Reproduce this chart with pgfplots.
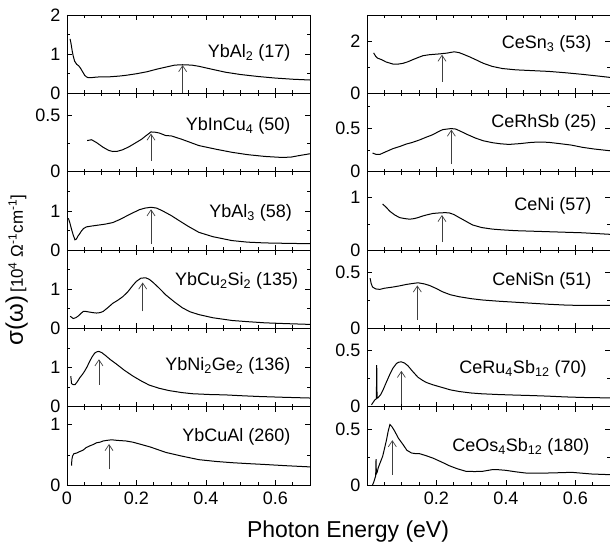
\documentclass[border=0pt]{standalone}
\usepackage{fontspec}
\setmainfont{Liberation Sans}
\usepackage{pgfplots}
\pgfplotsset{compat=1.18}
\usepgfplotslibrary{groupplots}
\usetikzlibrary{calc,arrows.meta}

\pgfplotsset{
  panel/.style={
    scale only axis, width=243pt, height=78.33pt,
    xmin=0, xmax=0.7, ymin=0,
    minor xtick={0,0.05,...,0.7},
    tick align=inside,
    major tick length=5pt, minor tick length=3pt,
    every tick/.style={black, line width=0.6pt},
    axis line style={line width=0.8pt},
    tick label style={font=\fontsize{18}{18}\selectfont},
    yticklabel style={xshift=-3pt},
    xticklabel style={yshift=-3pt},
    /pgf/number format/assume math mode=true,
  },
  curve/.style={black, line width=1pt, no marks},
}
\tikzset{
  pk/.style={-{Straight Barb[length=6pt,width=8pt]}, line width=0.7pt, black!75},
  lbl/.style={anchor=base east, font=\fontsize{18}{18}\selectfont},
}

\begin{document}
\begin{tikzpicture}
\begin{groupplot}[group style={group size=2 by 6, horizontal sep=57pt, vertical sep=0pt, xticklabels at=edge bottom}, panel]
% row 1
\nextgroupplot[ymax=2, ytick={0,1,2}, minor ytick={0.5,1.5}, xtick={0,0.2,0.4,0.6}]
\addplot[curve] coordinates {(0.009,1.39) (0.012,1.25) (0.015,1.08) (0.018,0.95) (0.022,0.82) (0.028,0.74) (0.034,0.70) (0.039,0.64) (0.045,0.55) (0.051,0.46) (0.056,0.42) (0.061,0.40) (0.07,0.40) (0.08,0.41) (0.094,0.42) (0.12,0.42) (0.15,0.44) (0.17,0.46) (0.2,0.50) (0.23,0.55) (0.26,0.62) (0.29,0.68) (0.31,0.72) (0.333,0.73) (0.36,0.72) (0.38,0.69) (0.42,0.61) (0.456,0.54) (0.5,0.48) (0.55,0.43) (0.6,0.39) (0.65,0.36) (0.7,0.34)};
\draw[pk] (axis cs:0.333,0) -- (axis cs:0.333,0.72);
\node[lbl] at (rel axis cs:0.934,0.46) {YbAl\textsubscript{2} (17)};
\nextgroupplot[ymax=3, ytick={0,2}, minor ytick={1}, xtick={0.2,0.4,0.6}]
\addplot[curve] coordinates {(0.019,1.55) (0.025,1.42) (0.03,1.35) (0.042,1.29) (0.055,1.2) (0.075,1.12) (0.09,1.12) (0.104,1.15) (0.118,1.21) (0.132,1.29) (0.147,1.37) (0.161,1.44) (0.18,1.48) (0.209,1.51) (0.23,1.54) (0.251,1.59) (0.265,1.56) (0.275,1.51) (0.295,1.40) (0.313,1.29) (0.335,1.15) (0.361,1.03) (0.39,0.95) (0.428,0.90) (0.475,0.87) (0.523,0.84) (0.57,0.79) (0.618,0.73) (0.66,0.67) (0.7,0.61)};
\draw[pk] (axis cs:0.216,0.45) -- (axis cs:0.216,1.48);
\node[lbl] at (rel axis cs:0.938,0.57) {CeSn\textsubscript{3} (53)};
% row 2
\nextgroupplot[ymax=0.7, ytick={0,0.5}, minor ytick={0.25}, xtick={0,0.2,0.4,0.6}]
\addplot[curve] coordinates {(0.058,0.278) (0.071,0.285) (0.085,0.26) (0.104,0.218) (0.12,0.19) (0.132,0.18) (0.145,0.182) (0.161,0.196) (0.18,0.225) (0.199,0.26) (0.215,0.29) (0.227,0.32) (0.242,0.355) (0.255,0.352) (0.266,0.345) (0.285,0.322) (0.3,0.32) (0.33,0.29) (0.38,0.233) (0.43,0.2) (0.475,0.173) (0.52,0.152) (0.57,0.136) (0.619,0.127) (0.645,0.13) (0.666,0.142) (0.7,0.16)};
\draw[pk] (axis cs:0.242,0.096) -- (axis cs:0.242,0.34);
\node[lbl] at (rel axis cs:0.934,0.525) {YbInCu\textsubscript{4} (50)};
\nextgroupplot[ymax=0.9, ytick={0,0.5}, minor ytick={0.25,0.75}, xtick={0.2,0.4,0.6}]
\addplot[curve] coordinates {(0.016,0.214) (0.025,0.2) (0.037,0.198) (0.055,0.23) (0.075,0.265) (0.095,0.29) (0.113,0.317) (0.13,0.335) (0.151,0.364) (0.17,0.395) (0.189,0.424) (0.205,0.458) (0.218,0.483) (0.242,0.495) (0.255,0.49) (0.266,0.471) (0.29,0.425) (0.313,0.385) (0.335,0.355) (0.361,0.333) (0.385,0.32) (0.409,0.313) (0.44,0.322) (0.475,0.337) (0.5,0.34) (0.523,0.337) (0.555,0.322) (0.589,0.305) (0.62,0.28) (0.655,0.26) (0.7,0.24)};
\draw[pk] (axis cs:0.243,0.087) -- (axis cs:0.243,0.483);
\node[lbl] at (rel axis cs:0.959,0.57) {CeRhSb (25)};
% row 3
\nextgroupplot[ymax=2, ytick={0,1}, minor ytick={0.5,1.5}, xtick={0,0.2,0.4,0.6}]
\addplot[curve] coordinates {(0.004,0.81) (0.008,0.7) (0.013,0.53) (0.018,0.38) (0.023,0.26) (0.027,0.28) (0.032,0.36) (0.037,0.42) (0.042,0.49) (0.048,0.55) (0.056,0.59) (0.07,0.61) (0.094,0.64) (0.11,0.66) (0.132,0.70) (0.15,0.77) (0.17,0.86) (0.19,0.95) (0.209,1.03) (0.225,1.07) (0.242,1.09) (0.258,1.07) (0.275,1.0) (0.3,0.88) (0.323,0.75) (0.35,0.60) (0.38,0.45) (0.42,0.34) (0.475,0.24) (0.52,0.2) (0.57,0.18) (0.63,0.17) (0.7,0.16)};
\draw[pk] (axis cs:0.242,0.15) -- (axis cs:0.242,1.04);
\node[lbl] at (rel axis cs:0.94,0.415) {YbAl\textsubscript{3} (58)};
\nextgroupplot[ymax=1.5, ytick={0,1}, minor ytick={0.5}, xtick={0.2,0.4,0.6}]
\addplot[curve] coordinates {(0.045,0.88) (0.055,0.82) (0.066,0.74) (0.08,0.67) (0.094,0.62) (0.11,0.6) (0.123,0.59) (0.135,0.6) (0.147,0.62) (0.16,0.65) (0.171,0.67) (0.19,0.70) (0.209,0.71) (0.225,0.715) (0.237,0.71) (0.25,0.68) (0.266,0.62) (0.285,0.55) (0.304,0.48) (0.33,0.43) (0.361,0.40) (0.39,0.385) (0.428,0.37) (0.475,0.36) (0.523,0.35) (0.57,0.34) (0.618,0.33) (0.66,0.315) (0.7,0.30)};
\draw[pk] (axis cs:0.216,0.15) -- (axis cs:0.216,0.67);
\node[lbl] at (rel axis cs:0.938,0.50) {CeNi (57)};
% row 4
\nextgroupplot[ymax=2, ytick={0,1}, minor ytick={0.5,1.5}, xtick={0,0.2,0.4,0.6}]
\addplot[curve] coordinates {(0.009,0.31) (0.018,0.25) (0.025,0.27) (0.032,0.31) (0.04,0.38) (0.047,0.43) (0.055,0.43) (0.061,0.42) (0.075,0.40) (0.085,0.39) (0.095,0.40) (0.104,0.43) (0.118,0.53) (0.132,0.64) (0.147,0.72) (0.161,0.81) (0.175,0.93) (0.19,1.1) (0.2,1.2) (0.213,1.28) (0.227,1.29) (0.237,1.25) (0.247,1.18) (0.265,1.03) (0.285,0.85) (0.31,0.67) (0.333,0.52) (0.355,0.42) (0.38,0.35) (0.42,0.27) (0.475,0.2) (0.52,0.17) (0.57,0.14) (0.63,0.12) (0.7,0.10)};
\draw[pk] (axis cs:0.218,0.43) -- (axis cs:0.218,1.17);
\node[lbl] at (rel axis cs:0.966,0.55) {YbCu\textsubscript{2}Si\textsubscript{2} (135)};
\nextgroupplot[ymax=0.7, ytick={0,0.5}, minor ytick={0.25}, xtick={0.2,0.4,0.6}]
\addplot[curve] coordinates {(0.009,0.448) (0.012,0.4) (0.016,0.369) (0.025,0.352) (0.037,0.348) (0.05,0.358) (0.075,0.369) (0.095,0.38) (0.113,0.392) (0.13,0.4) (0.147,0.407) (0.165,0.397) (0.18,0.383) (0.2,0.355) (0.218,0.326) (0.24,0.3) (0.266,0.282) (0.3,0.265) (0.333,0.253) (0.38,0.242) (0.428,0.233) (0.475,0.224) (0.523,0.215) (0.57,0.208) (0.618,0.204) (0.7,0.204)};
\draw[pk] (axis cs:0.145,0.078) -- (axis cs:0.145,0.383);
\node[lbl] at (rel axis cs:0.938,0.55) {CeNiSn (51)};
% row 5
\nextgroupplot[ymax=2, ytick={0,1}, minor ytick={0.5,1.5}, xtick={0,0.2,0.4,0.6}]
\addplot[curve] coordinates {(0.011,0.78) (0.013,0.59) (0.018,0.56) (0.023,0.56) (0.03,0.64) (0.037,0.74) (0.045,0.83) (0.051,0.91) (0.058,1.02) (0.066,1.17) (0.073,1.28) (0.08,1.37) (0.086,1.40) (0.092,1.41) (0.1,1.38) (0.109,1.32) (0.125,1.2) (0.142,1.09) (0.165,0.93) (0.19,0.78) (0.215,0.65) (0.237,0.55) (0.265,0.47) (0.294,0.41) (0.33,0.36) (0.361,0.33) (0.41,0.31) (0.456,0.30) (0.5,0.28) (0.55,0.26) (0.62,0.24) (0.7,0.22)};
\draw[pk] (axis cs:0.092,0.56) -- (axis cs:0.092,1.21);
\node[lbl] at (rel axis cs:0.934,0.46) {YbNi\textsubscript{2}Ge\textsubscript{2} (136)};
\nextgroupplot[ymax=0.7, ytick={0,0.5}, minor ytick={0.25}, xtick={0.2,0.4,0.6}]
\addplot[curve] coordinates {(0.013,0.016) (0.018,0.04) (0.023,0.062) (0.027,0.07) (0.028,0.37) (0.029,0.075) (0.032,0.08) (0.04,0.11) (0.047,0.155) (0.056,0.22) (0.066,0.29) (0.075,0.345) (0.085,0.386) (0.092,0.398) (0.099,0.40) (0.108,0.39) (0.118,0.365) (0.13,0.32) (0.147,0.262) (0.16,0.235) (0.171,0.216) (0.19,0.195) (0.218,0.17) (0.24,0.15) (0.266,0.135) (0.3,0.122) (0.33,0.115) (0.38,0.108) (0.43,0.103) (0.475,0.099) (0.52,0.094) (0.57,0.087) (0.62,0.082) (0.7,0.078)};
\draw[pk] (axis cs:0.099,0.025) -- (axis cs:0.099,0.32);
\node[lbl] at (rel axis cs:0.918,0.42) {CeRu\textsubscript{4}Sb\textsubscript{12} (70)};
% row 6
\nextgroupplot[ymax=1.3, ytick={0,1}, minor ytick={0.5}, xtick={0,0.2,0.4,0.6}]
\addplot[curve] coordinates {(0.013,0.32) (0.014,0.42) (0.016,0.48) (0.02,0.52) (0.028,0.53) (0.035,0.55) (0.047,0.58) (0.055,0.62) (0.066,0.65) (0.075,0.67) (0.085,0.70) (0.095,0.71) (0.104,0.73) (0.115,0.74) (0.128,0.75) (0.145,0.74) (0.17,0.73) (0.19,0.71) (0.209,0.68) (0.24,0.63) (0.285,0.54) (0.33,0.48) (0.38,0.42) (0.43,0.39) (0.475,0.37) (0.52,0.355) (0.57,0.34) (0.63,0.32) (0.7,0.30)};
\draw[pk] (axis cs:0.121,0.26) -- (axis cs:0.121,0.68);
\node[lbl] at (rel axis cs:0.934,0.555) {YbCuAl (260)};
\nextgroupplot[ymax=0.7, ytick={0,0.5}, minor ytick={0.25}, xtick={0.2,0.4,0.6}]
\addplot[curve] coordinates {(0.016,0.0) (0.02,0.03) (0.023,0.062) (0.025,0.08) (0.026,0.23) (0.027,0.1) (0.03,0.12) (0.032,0.15) (0.038,0.2) (0.045,0.255) (0.05,0.32) (0.056,0.40) (0.061,0.48) (0.066,0.54) (0.072,0.52) (0.08,0.48) (0.09,0.42) (0.104,0.36) (0.115,0.31) (0.128,0.286) (0.14,0.28) (0.151,0.28) (0.17,0.262) (0.19,0.24) (0.215,0.205) (0.237,0.172) (0.26,0.145) (0.285,0.122) (0.31,0.12) (0.333,0.122) (0.361,0.137) (0.38,0.136) (0.399,0.131) (0.43,0.117) (0.456,0.107) (0.49,0.105) (0.523,0.107) (0.56,0.11) (0.589,0.113) (0.62,0.105) (0.647,0.098) (0.7,0.092)};
\draw[pk] (axis cs:0.073,0.092) -- (axis cs:0.073,0.40);
\node[lbl] at (rel axis cs:0.93,0.43) {CeOs\textsubscript{4}Sb\textsubscript{12} (180)};
\end{groupplot}
\coordinate (O) at (group c1r1.north west);
\pgfresetboundingbox
\path[use as bounding box] ($(O)+(-67pt,15pt)$) rectangle ($(O)+(543pt,-530pt)$);
\node[anchor=base, font=\fontsize{23}{23}\selectfont] at ($(O)+(281pt,-522pt)$) {Photon Energy (eV)};
\node[rotate=90, anchor=base] at ($(O)+(-44pt,-255pt)$) {{\fontsize{24}{24}\selectfont σ(ω)} {\fontsize{17}{17}\selectfont [10\textsuperscript{4} Ω\textsuperscript{-1}cm\textsuperscript{-1}]}};
\end{tikzpicture}
\end{document}
